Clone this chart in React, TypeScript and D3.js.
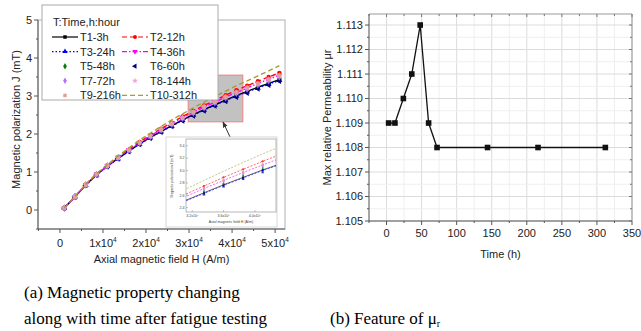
import React from 'react';
import * as d3 from 'd3';

// axial field H (x10^4 A/m) sampled along every fatigue curve
const fieldH = [0.1, 0.35, 0.6, 0.85, 1.1, 1.35, 1.6, 1.85, 2.1, 2.35, 2.6, 2.85, 3.1, 3.35, 3.6, 3.85, 4.1, 4.35, 4.6, 4.85, 5.1];

// magnetic polarization J (mT) per series
const T1 = [0.05, 0.35, 0.66, 0.93, 1.15, 1.36, 1.55, 1.74, 1.91, 2.07, 2.22, 2.37, 2.51, 2.64, 2.77, 2.89, 3.01, 3.12, 3.23, 3.33, 3.43];
const T2 = [0.05, 0.35, 0.67, 0.95, 1.17, 1.39, 1.59, 1.79, 1.97, 2.14, 2.30, 2.46, 2.61, 2.75, 2.89, 3.02, 3.15, 3.27, 3.39, 3.50, 3.61];
const T3 = [0.05, 0.35, 0.65, 0.92, 1.15, 1.35, 1.55, 1.73, 1.90, 2.06, 2.21, 2.36, 2.50, 2.63, 2.76, 2.88, 3.00, 3.11, 3.21, 3.31, 3.41];
const T4 = [0.05, 0.35, 0.66, 0.94, 1.16, 1.38, 1.58, 1.77, 1.95, 2.12, 2.27, 2.42, 2.57, 2.71, 2.84, 2.97, 3.09, 3.21, 3.33, 3.44, 3.55];
const T5 = [0.05, 0.35, 0.66, 0.93, 1.16, 1.37, 1.56, 1.75, 1.92, 2.08, 2.24, 2.39, 2.53, 2.66, 2.79, 2.92, 3.04, 3.15, 3.26, 3.36, 3.46];
const T6 = [0.05, 0.34, 0.65, 0.92, 1.14, 1.35, 1.54, 1.73, 1.89, 2.05, 2.20, 2.35, 2.48, 2.61, 2.74, 2.86, 2.97, 3.08, 3.19, 3.29, 3.39];
const T7 = [0.05, 0.35, 0.66, 0.94, 1.16, 1.37, 1.57, 1.76, 1.93, 2.10, 2.25, 2.41, 2.55, 2.69, 2.82, 2.95, 3.07, 3.18, 3.29, 3.40, 3.50];
const T8 = [0.05, 0.35, 0.66, 0.94, 1.16, 1.38, 1.57, 1.77, 1.94, 2.11, 2.27, 2.42, 2.57, 2.71, 2.84, 2.97, 3.09, 3.21, 3.32, 3.43, 3.53];
const T9 = [0.05, 0.35, 0.66, 0.94, 1.17, 1.38, 1.58, 1.77, 1.95, 2.12, 2.28, 2.43, 2.58, 2.72, 2.85, 2.98, 3.10, 3.22, 3.33, 3.44, 3.54];
const T10 = [0.05, 0.36, 0.68, 0.96, 1.19, 1.42, 1.63, 1.84, 2.02, 2.20, 2.37, 2.53, 2.69, 2.84, 2.99, 3.13, 3.27, 3.40, 3.53, 3.66, 3.80];

const seriesNames = ['T1-3h', 'T2-12h', 'T3-24h', 'T4-36h', 'T5-48h', 'T6-60h', 'T7-72h', 'T8-144h', 'T9-216h', 'T10-312h'];
const seriesValues = [T1, T2, T3, T4, T5, T6, T7, T8, T9, T10];

const hTicks = [0, 1, 2, 3, 4, 5];
const jTicks = [0, 1, 2, 3, 4, 5];
const insetHTicks = [3.2, 3.6, 4.0];
const insetJTicks = [2.4, 2.6, 2.8, 3.0, 3.2, 3.4];

// panel (b)
const timeH = [3, 12, 24, 36, 48, 60, 72, 144, 216, 312];
const maxMu = [1.109, 1.109, 1.110, 1.111, 1.113, 1.109, 1.108, 1.108, 1.108, 1.108];
const timeTicks = [0, 50, 100, 150, 200, 250, 300, 350];
const muTicks = [1.105, 1.106, 1.107, 1.108, 1.109, 1.110, 1.111, 1.112, 1.113];

const styles = [
    { color: '#000000', dash: null, symbol: d3.symbolSquare, line: true },
    { color: '#ff0000', dash: '5,3', symbol: d3.symbolCircle, line: true },
    { color: '#0000ff', dash: '1.5,2', symbol: d3.symbolTriangle, line: true },
    { color: '#ff00ff', dash: '5,2,1.5,2', symbol: d3.symbolTriangle, line: true, rot: 180 },
    { color: '#008000', dash: null, symbol: d3.symbolDiamond, line: false },
    { color: '#000080', dash: null, symbol: d3.symbolTriangle, line: false, rot: -90 },
    { color: '#b070ff', dash: null, symbol: d3.symbolDiamond, line: false },
    { color: '#e8a8d8', dash: null, symbol: d3.symbolStar, line: false },
    { color: '#e0a098', dash: null, symbol: d3.symbolSquare, line: false },
    { color: '#a0a030', dash: '5,3', symbol: d3.symbolCircle, line: true, noMarker: true },
];

const SANS = "Arial, 'Liberation Sans', sans-serif";
const SERIF = "'Times New Roman', 'Liberation Serif', serif";

const Sup4 = ({ n }: { n: number }) => (
    <>
        {n === 0 ? '0' : `${n}x10`}
        {n !== 0 && <tspan dy={-5} fontSize={6.5}>4</tspan>}
    </>
);

function PanelA() {
    const x = d3.scaleLinear().domain([-0.51, 5.23]).range([38, 285]);
    const y = d3.scaleLinear().domain([-0.5, 5]).range([229, 20]);
    const [x0, x1] = x.range();
    const [yb, yt] = y.range();

    // inset
    const ix = d3.scaleLinear().domain([3.12, 4.27]).range([186, 276]);
    const iy = d3.scaleLinear().domain([2.33, 3.51]).range([212, 139]);

    const line = (sx: any, sy: any) => d3.line<number>().x((_, i) => sx(fieldH[i])).y(d => sy(d));

    const minorX = d3.range(-0.5, 5.01, 0.5);
    const minorY = d3.range(-0.5, 5.01, 0.5);

    return (
        <g fontFamily={SANS}>
            <defs>
                <clipPath id="clipA"><rect x={x0} y={yt} width={x1 - x0} height={yb - yt} /></clipPath>
                <clipPath id="clipI"><rect x={186} y={139} width={90} height={73} /></clipPath>
                <marker id="arrowHead" viewBox="0 0 10 10" refX="9" refY="5" markerWidth="6" markerHeight="6" orient="auto">
                    <path d="M0,1 L10,5 L0,9 z" fill="#333" />
                </marker>
            </defs>
            {/* frame */}
            <rect x={x0} y={yt} width={x1 - x0} height={yb - yt} fill="white" stroke="#b0b0b0" strokeWidth={1} />
            {/* zoom box */}
            <rect x={x(2.98)} y={y(3.55)} width={x(4.25) - x(2.98)} height={y(2.32) - y(3.55)} fill="#c2c2c2" stroke="#f08080" strokeWidth={1} />
            {/* curves */}
            <g clipPath="url(#clipA)">
                {seriesValues.map((vals, si) => {
                    const st = styles[si];
                    const sym = d3.symbol().type(st.symbol).size(15)();
                    return (
                        <g key={si}>
                            {st.line && <path d={line(x, y)(vals) || ''} fill="none" stroke={st.color} strokeWidth={1.4} strokeDasharray={st.dash || undefined} />}
                            {!st.noMarker && vals.map((v, i) => (
                                <path key={i} d={sym || ''} fill={st.color} transform={`translate(${x(fieldH[i])},${y(v)}) rotate(${st.rot || 0})`} />
                            ))}
                        </g>
                    );
                })}
            </g>
            {/* axes */}
            <line x1={x0} x2={x1} y1={yb} y2={yb} stroke="#555" />
            <line x1={x0} x2={x0} y1={yb} y2={yt} stroke="#555" />
            {minorX.map(t => (
                <line key={`mx${t}`} x1={x(t)} x2={x(t)} y1={yb} y2={yb + (hTicks.includes(t) ? 4 : 2)} stroke="#555" />
            ))}
            {minorY.map(t => (
                <line key={`my${t}`} x1={x0} x2={x0 - (jTicks.includes(t) ? 4 : 2)} y1={y(t)} y2={y(t)} stroke="#555" />
            ))}
            {hTicks.map(t => (
                <text key={`hx${t}`} x={x(t)} y={247} fontSize={11} textAnchor="middle" fill="#222"><Sup4 n={t} /></text>
            ))}
            {jTicks.map(t => (
                <text key={`jy${t}`} x={x0 - 6} y={y(t)} dy="0.35em" fontSize={11} textAnchor="end" fill="#222">{t}</text>
            ))}
            <text x={(x0 + x1) / 2} y={263} fontSize={11} textAnchor="middle" fill="#222">Axial magnetic field H (A/m)</text>
            <text transform={`translate(20,${(yb + yt) / 2 - 5}) rotate(-90)`} fontSize={11} textAnchor="middle" fill="#222">Magnetic polarization J (mT)</text>

            {/* legend */}
            <rect x={42} y={5} width={176} height={95} fill="white" stroke="#aaa" />
            <text x={53} y={26} fontSize={11} fill="#222">T:Time,h:hour</text>
            {seriesNames.map((name, si) => {
                const st = styles[si];
                const col = si % 2;
                const row = Math.floor(si / 2);
                const lx = col === 0 ? 52 : 122;
                const ly = 37 + row * 14.6;
                const sym = d3.symbol().type(st.symbol).size(12)();
                return (
                    <g key={name}>
                        {st.line && <line x1={lx} x2={lx + 26} y1={ly} y2={ly} stroke={st.color} strokeWidth={1.2} strokeDasharray={st.dash || undefined} />}
                        {!st.noMarker && <path d={sym || ''} fill={st.color} transform={`translate(${lx + 13},${ly}) rotate(${st.rot || 0})`} />}
                        <text x={lx + 28} y={ly} dy="0.36em" fontSize={11} fill="#222">{name}</text>
                    </g>
                );
            })}

            {/* arrow */}
            <line x1={239} y1={156} x2={223} y2={122} stroke="#333" strokeWidth={1} markerEnd="url(#arrowHead)" />

            {/* inset */}
            <rect x={166} y={137} width={111} height={90} fill="white" stroke="#ccc" strokeWidth={0.8} />
            <rect x={186} y={139} width={90} height={73} fill="none" stroke="#888" strokeWidth={0.6} />
            <g clipPath="url(#clipI)">
                {seriesValues.map((vals, si) => {
                    const st = styles[si];
                    const sym = d3.symbol().type(st.symbol).size(4)();
                    return (
                        <g key={si}>
                            {st.line && <path d={line(ix, iy)(vals) || ''} fill="none" stroke={st.color} strokeWidth={0.6} strokeDasharray={st.dash ? '2,1.5' : undefined} />}
                            {!st.noMarker && vals.map((v, i) => (
                                <path key={i} d={sym || ''} fill={st.color} opacity={0.8} transform={`translate(${ix(fieldH[i])},${iy(v)})`} />
                            ))}
                        </g>
                    );
                })}
            </g>
            {insetHTicks.map(t => (
                <g key={`ih${t}`}>
                    <line x1={ix(t)} x2={ix(t)} y1={212} y2={210} stroke="#888" strokeWidth={0.5} />
                    <text x={ix(t)} y={217} fontSize={3.6} textAnchor="middle" fill="#444">{t.toFixed(1)}x10<tspan dy={-1.5} fontSize={2.4}>4</tspan></text>
                </g>
            ))}
            {insetJTicks.map(t => (
                <g key={`ij${t}`}>
                    <line x1={186} x2={188} y1={iy(t)} y2={iy(t)} stroke="#888" strokeWidth={0.5} />
                    <text x={184.5} y={iy(t)} dy="0.35em" fontSize={3.6} textAnchor="end" fill="#444">{t.toFixed(1)}</text>
                </g>
            ))}
            <text x={231} y={223} fontSize={3.6} textAnchor="middle" fill="#444">Axial magnetic field H (A/m)</text>
            <text transform="translate(173,176) rotate(-90)" fontSize={3.4} textAnchor="middle" fill="#444">Magnetic polarization J (mT)</text>
        </g>
    );
}

function PanelB() {
    const x = d3.scaleLinear().domain([-25, 350]).range([369, 632]);
    const y = d3.scaleLinear().domain([1.105, 1.11345]).range([221, 14]);
    const [x0, x1] = x.range();
    const [yb, yt] = y.range();
    const minorT = d3.range(-25, 351, 25);
    const minorMu = d3.range(0, 17).map(i => 1.105 + i * 0.0005);
    const line = d3.line<number>().x((_, i) => x(timeH[i])).y(d => y(d));

    return (
        <g fontFamily={SANS}>
            <rect x={x0} y={yt} width={x1 - x0} height={yb - yt} fill="white" />
            {/* grid */}
            {minorT.map(t => (
                <line key={`gx${t}`} x1={x(t)} x2={x(t)} y1={yt} y2={yb} stroke={t % 50 === 0 ? '#dcdcdc' : '#efefef'} strokeWidth={1} />
            ))}
            {minorMu.map((t, i) => (
                <line key={`gy${i}`} x1={x0} x2={x1} y1={y(t)} y2={y(t)} stroke={i % 2 === 0 ? '#dcdcdc' : '#efefef'} strokeWidth={1} />
            ))}
            {/* frame */}
            <line x1={x0} x2={x1} y1={yt} y2={yt} stroke="#999" />
            <line x1={x1} x2={x1} y1={yt} y2={yb} stroke="#999" />
            <line x1={x0} x2={x1} y1={yb} y2={yb} stroke="#555" />
            <line x1={x0} x2={x0} y1={yb} y2={yt} stroke="#555" />
            {minorT.map(t => (
                <g key={`tx${t}`}>
                    <line x1={x(t)} x2={x(t)} y1={yb} y2={yb + (t % 50 === 0 ? 4 : 2)} stroke="#555" />
                    <line x1={x(t)} x2={x(t)} y1={yt} y2={yt + (t % 50 === 0 ? 3 : 2)} stroke="#777" />
                </g>
            ))}
            {minorMu.map((t, i) => (
                <g key={`ty${i}`}>
                    <line x1={x0} x2={x0 - (i % 2 === 0 ? 4 : 2)} y1={y(t)} y2={y(t)} stroke="#555" />
                    <line x1={x1} x2={x1 - (i % 2 === 0 ? 3 : 2)} y1={y(t)} y2={y(t)} stroke="#777" />
                </g>
            ))}
            {timeTicks.map(t => (
                <text key={`lx${t}`} x={x(t)} y={237} fontSize={11} textAnchor="middle" fill="#222">{t}</text>
            ))}
            {muTicks.map(t => (
                <text key={`ly${t}`} x={x0 - 6} y={y(t)} dy="0.35em" fontSize={11} textAnchor="end" fill="#222">{t.toFixed(3)}</text>
            ))}
            <text x={(x0 + x1) / 2} y={258} fontSize={11} textAnchor="middle" fill="#222">Time (h)</text>
            <text transform={`translate(331,${(yb + yt) / 2}) rotate(-90)`} fontSize={11} textAnchor="middle" fill="#222">Max relative Permeability μr</text>
            {/* data */}
            <path d={line(maxMu) || ''} fill="none" stroke="#111" strokeWidth={1.3} />
            {maxMu.map((v, i) => (
                <rect key={i} x={x(timeH[i]) - 2.8} y={y(v) - 2.8} width={5.6} height={5.6} fill="#111" />
            ))}
        </g>
    );
}

export default function App() {
    return (
        <svg width={641} height={331} style={{ position: 'absolute', left: 0, top: 0, background: 'white' }}>
            <rect width={641} height={331} fill="white" />
            <PanelA />
            <PanelB />
            <g fontFamily={SERIF} fontSize={17} fill="#000">
                <text x={24} y={298}>(a) Magnetic property changing</text>
                <text x={24} y={324}>along with time after fatigue testing</text>
                <text x={330} y={324}>(b) Feature of μ<tspan dy={3} fontSize={10}>r</tspan></text>
            </g>
        </svg>
    );
}
